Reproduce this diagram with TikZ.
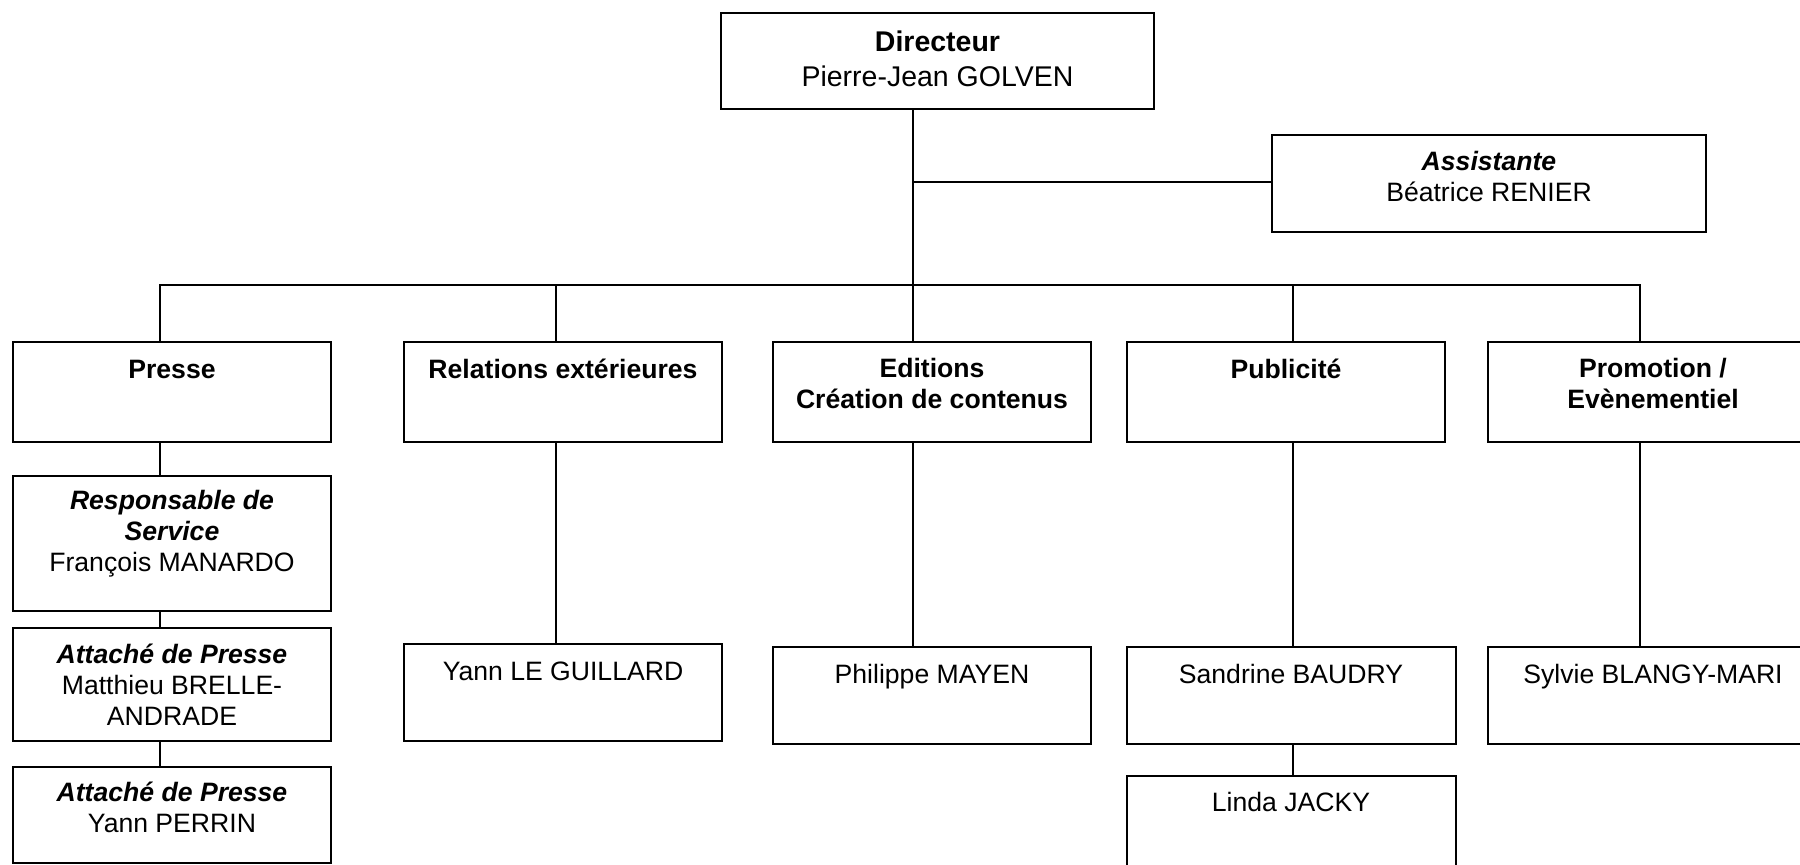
\documentclass[tikz,border=0pt]{standalone}
\usepackage{fontspec}
\setmainfont{Liberation Sans}
\newcommand\mkbox[5]{\node[box, minimum width={(#4-#2)*1pt}, minimum height={(#5-#3)*1pt}] (#1) at ({(#2+#4)/2},{(#3+#5)/2}) {};}
\begin{document}
\begin{tikzpicture}[x=1pt,y=-1pt,
  box/.style={draw=black, line width=1.8pt, inner sep=0pt, outer sep=0pt, rectangle},
  txt/.style={align=center, inner sep=0pt, anchor=base, font=\fontsize{26.6}{31}\selectfont},
  big/.style={align=center, inner sep=0pt, anchor=base, font=\fontsize{28.5}{35}\selectfont},
  conn/.style={line width=1.5pt}]
\useasboundingbox (0,0) rectangle (1800,865);
\clip (0,0) rectangle (1800,865);
% boxes
\mkbox{dir}{721}{13}{1154}{109}
\mkbox{asst}{1272}{135}{1706}{232}
\mkbox{pres}{13}{342}{331}{442}
\mkbox{rel}{404}{342}{722}{442}
\mkbox{edi}{773}{342}{1091}{442}
\mkbox{pub}{1127}{342}{1445}{442}
\mkbox{promo}{1488}{342}{1818}{442}
\mkbox{resp}{13}{476}{331}{611}
\mkbox{att1}{13}{628}{331}{741}
\mkbox{att2}{13}{767}{331}{863}
\mkbox{yann}{404}{644}{722}{741}
\mkbox{phil}{773}{647}{1091}{744}
\mkbox{sand}{1127}{647}{1456}{744}
\mkbox{sylv}{1488}{647}{1818}{744}
\mkbox{linda}{1127}{776}{1456}{900}
% texts (anchor=base is the baseline of the last line)
\node[big] (dirT) at (937.5,86) {\textbf{Directeur}\\Pierre-Jean GOLVEN};
\node[txt] (asstT) at (1489,201) {\textbf{\textit{Assistante}}\\Béatrice RENIER};
\node[txt] (presT) at (172,378) {\textbf{Presse}};
\node[txt] (relT) at (563,378) {\textbf{Relations extérieures}};
\node[txt] (ediT) at (932,408) {\textbf{Editions}\\\textbf{Création de contenus}};
\node[txt] (pubT) at (1286,378) {\textbf{Publicité}};
\node[txt] (promoT) at (1653,408) {\textbf{Promotion /}\\\textbf{Evènementiel}};
\node[txt] (respT) at (172,571) {\textbf{\textit{Responsable de}}\\\textbf{\textit{Service}}\\François MANARDO};
\node[txt] (att1T) at (172,725) {\textbf{\textit{Attaché de Presse}}\\Matthieu BRELLE-\\ANDRADE};
\node[txt] (att2T) at (172,832) {\textbf{\textit{Attaché de Presse}}\\Yann PERRIN};
\node[txt] (yannT) at (563,680) {Yann LE GUILLARD};
\node[txt] (philT) at (932,683) {Philippe MAYEN};
\node[txt] (sandT) at (1291,683) {Sandrine BAUDRY};
\node[txt] (sylvT) at (1653,683) {Sylvie BLANGY-MARI};
\node[txt] (lindaT) at (1291,811) {Linda JACKY};
% connector coordinates
\coordinate (busL) at (160,285);
\coordinate (busR) at (1640,285);
\coordinate (dRel) at (556,285);
\coordinate (trunk) at (913,285);
\coordinate (dPub) at (1293,285);
\coordinate (aLine) at (913,182);
% connectors
\draw[conn] (dir.south -| trunk) -- (trunk);
\draw[conn] (aLine) -- (asst.west |- aLine);
\draw[conn] (pres.north -| busL) -- (busL) -- (busR) -- (promo.north -| busR);
\draw[conn] (dRel) -- (rel.north -| dRel);
\draw[conn] (trunk) -- (edi.north -| trunk);
\draw[conn] (dPub) -- (pub.north -| dPub);
\draw[conn] (pres.south -| busL) -- (resp.north -| busL);
\draw[conn] (resp.south -| busL) -- (att1.north -| busL);
\draw[conn] (att1.south -| busL) -- (att2.north -| busL);
\draw[conn] (rel.south -| dRel) -- (yann.north -| dRel);
\draw[conn] (edi.south -| trunk) -- (phil.north -| trunk);
\draw[conn] (pub.south -| dPub) -- (sand.north -| dPub);
\draw[conn] (sand.south -| dPub) -- (linda.north -| dPub);
\draw[conn] (promo.south -| busR) -- (sylv.north -| busR);
\end{tikzpicture}
\end{document}
